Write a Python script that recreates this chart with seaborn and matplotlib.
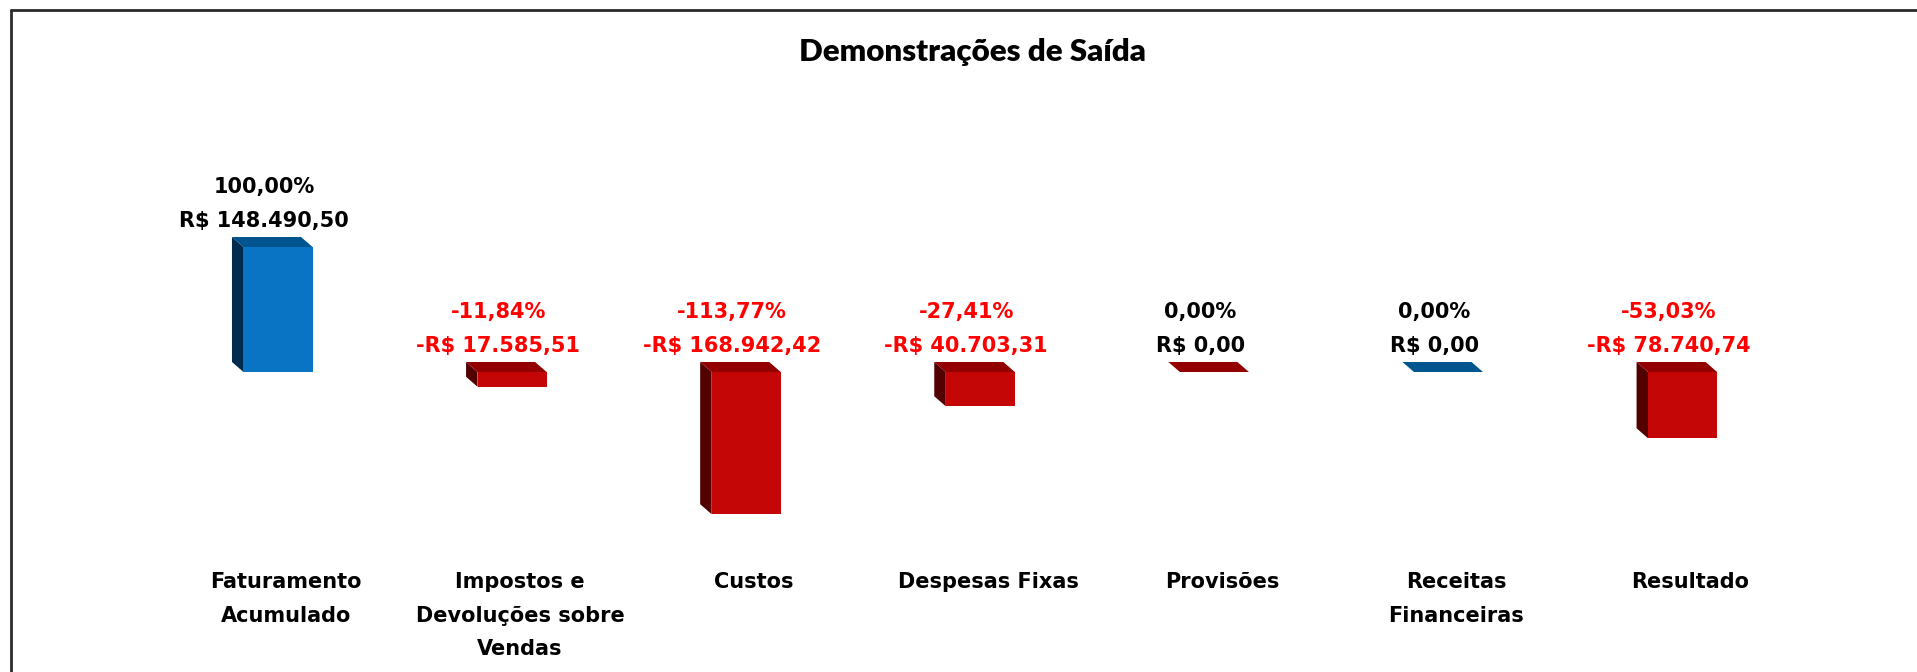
import textwrap

import matplotlib
matplotlib.use("Agg")
import matplotlib.pyplot as plt
import pandas as pd
import seaborn as sns
from matplotlib.lines import Line2D
from matplotlib.patches import Polygon
from matplotlib.transforms import ScaledTranslation

# --- dados do demonstrativo -------------------------------------------------
categorias = [
    "Faturamento Acumulado",
    "Impostos e Devoluções sobre Vendas",
    "Custos",
    "Despesas Fixas",
    "Provisões",
    "Receitas Financeiras",
    "Resultado",
]
valores = [148490.50, -17585.51, -168942.42, -40703.31, 0.00, 0.00, -78740.74]
grupos = ["Receita", "Despesa", "Despesa", "Despesa", "Despesa", "Receita", "Despesa"]

# --- cores (frente, lateral, topo) ------------------------------------------
cores = {
    "Receita": ("#0A74C4", "#002B4D", "#00558F"),
    "Despesa": ("#C40606", "#520000", "#920000"),
}


def brl(v):
    s = f"{abs(v):,.2f}".replace(",", "X").replace(".", ",").replace("X", ".")
    return ("-" if v < 0 else "") + "R$ " + s


def pct(v):
    return f"{v:.2f}".replace(".", ",") + "%"


df = pd.DataFrame({"categoria": categorias, "valor": valores, "grupo": grupos})
faturamento = valores[0]

sns.set_theme(style="white")
plt.rcParams["font.family"] = ["DejaVu Sans"]
fonte_rotulo = dict(family="DejaVu Sans", fontsize=15, fontweight="bold")

W, H, DPI = 1917, 672, 100
fig = plt.figure(figsize=(W / DPI, H / DPI), dpi=DPI)
fig.patch.set_facecolor("white")

# área do gráfico (em pixels da figura)
passo = 234.1
esq = 278 - 0.5 * passo
topo_px, base_px = 100, 565
ax = fig.add_axes([esq / W, 1 - base_px / H, 7 * passo / W, (base_px - topo_px) / H])

sns.barplot(
    data=df, x="categoria", y="valor", hue="grupo",
    palette={g: c[0] for g, c in cores.items()},
    width=0.295, dodge=False, saturation=1, errorbar=None,
    legend=False, ax=ax, zorder=3,
)

ax.set_xlim(-0.5, 6.5)
ax.set_ylim(-1.544 * faturamento, 2.176 * faturamento)
for s in ax.spines.values():
    s.set_visible(False)
ax.set_yticks([])
ax.set_xlabel("")
ax.set_ylabel("")
ax.grid(False)

# profundidade das barras em 3D (pixels -> unidades de dados)
px_x = ax.transData.transform((1, 0))[0] - ax.transData.transform((0, 0))[0]
px_y = ax.transData.transform((0, 1))[1] - ax.transData.transform((0, 0))[1]
dx = -11.5 / px_x
dy = 10.0 / px_y

for p in ax.patches:
    x0, w = p.get_x(), p.get_width()
    y0, h = p.get_y(), p.get_height()
    cima, baixo = max(y0, y0 + h), min(y0, y0 + h)
    idx = int(round(x0 + w / 2))
    _, lateral, tampo = cores[grupos[idx]]
    p.set_edgecolor("none")
    ax.add_patch(Polygon(
        [(x0, cima), (x0, baixo), (x0 + dx, baixo + dy), (x0 + dx, cima + dy)],
        closed=True, facecolor=lateral, edgecolor="none", zorder=2))
    ax.add_patch(Polygon(
        [(x0, cima), (x0 + w, cima), (x0 + w + dx, cima + dy), (x0 + dx, cima + dy)],
        closed=True, facecolor=tampo, edgecolor="none", zorder=2))

# rótulos de valor e percentual
for i, v in enumerate(valores):
    cor = "#FF0000" if v < 0 else "black"
    y = max(v, 0)
    ax.annotate(brl(v), xy=(i, y), xytext=(-14, 26), textcoords="offset pixels",
                ha="center", va="center", color=cor, **fonte_rotulo)
    ax.annotate(pct(v / faturamento * 100), xy=(i, y), xytext=(-14, 60),
                textcoords="offset pixels", ha="center", va="center",
                color=cor, **fonte_rotulo)

# rótulos das categorias
ax.set_xticks(range(len(categorias)))
ax.set_xticklabels([textwrap.fill(c, 16) for c in categorias],
                   color="black", linespacing=1.85, **fonte_rotulo)
ax.tick_params(axis="x", length=0, pad=5)
desloc = ScaledTranslation(8 / DPI, 0, fig.dpi_scale_trans)
for lbl in ax.get_xticklabels():
    lbl.set_transform(lbl.get_transform() + desloc)

# título
fig.text(972 / W, 1 - 52 / H, "Demonstrações de Saída", ha="center", va="center",
         family="Lato", fontsize=22.5, fontweight="heavy", color="black")

# moldura do gráfico
fig.add_artist(Line2D([11 / W, 1], [1 - 10 / H, 1 - 10 / H], transform=fig.transFigure,
                      color="#2b2b2b", lw=2))
fig.add_artist(Line2D([11 / W, 11 / W], [0, 1 - 10 / H], transform=fig.transFigure,
                      color="#2b2b2b", lw=2))

fig.savefig("out.png", dpi=DPI, facecolor="white")
